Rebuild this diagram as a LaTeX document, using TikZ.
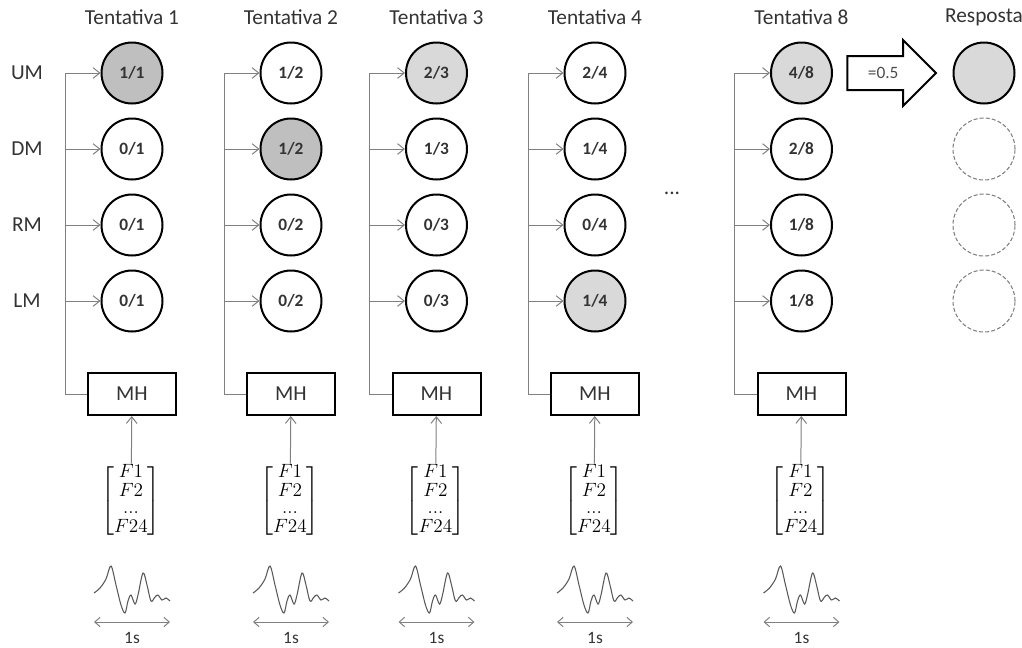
\documentclass[tikz,border=0pt]{standalone}
\usepackage{amsmath}
\usepackage{fontspec}
\setmainfont{Carlito}
\usepackage{tikz}
\usetikzlibrary{shapes.arrows, arrows.meta, positioning, calc}
\definecolor{hitdark}{HTML}{BFBFBF}
\definecolor{hitlight}{HTML}{D9D9D9}
\definecolor{wiregray}{HTML}{808080}
\definecolor{inkgray}{HTML}{333333}

\begin{document}
\begin{tikzpicture}[x=0.75pt, y=-0.75pt,
  label/.style={font=\fontsize{16}{18}\selectfont, text=inkgray},
  trial/.style={circle, draw, line width=1.5pt, minimum size=45.75pt,
    inner sep=0pt, fill=white, font=\fontsize{13}{15}\selectfont\bfseries, text=inkgray},
  hitd/.style={trial, fill=hitdark},
  hitl/.style={trial, fill=hitlight},
  pending/.style={circle, draw=wiregray, line width=0.8pt,
    dash pattern=on 3pt off 1.6pt, minimum size=46.5pt, inner sep=0pt},
  mhbox/.style={rectangle, draw, line width=1.5pt, minimum width=66pt,
    minimum height=31.5pt, label},
  feat/.style={inner sep=0.5pt, font=\fontsize{14.4}{13.2}\selectfont},
  wire/.style={draw=wiregray, line width=0.75pt},
  feed/.style={wire, -{Straight Barb[length=5pt, width=8pt]}},
  avgarrow/.style={single arrow, draw, line width=1.5pt, minimum height=66.5pt,
    single arrow head extend=12pt, inner ysep=7.5pt, text height=8.5pt,
    text depth=0.5pt, font=\fontsize{13}{15}\selectfont, text=black!70},
  eeg/.pic={
    \draw[draw=black!65, line width=0.8pt] plot[smooth, tension=0.55] coordinates {
      (0,0) (6,-5) (12,-14) (17,-27) (22,-8) (27,12) (31,20) (34,8) (37,2)
      (41,11) (44,2) (49,-20) (53,-8) (57,8) (61,4) (64,2) (68,7) (72,5) (76,8)};
    \draw[wire, {Straight Barb[length=4pt, width=7pt]}-{Straight Barb[length=4pt, width=7pt]}]
      (0,29) -- (76,29);
    \node[label, font=\fontsize{13}{15}\selectfont] (sec) at (38,45) {1s};
  }
]
  \useasboundingbox (0,0) rectangle (1022,647);

  % row labels
  \node[label] (lum) at (27,73)  {UM};
  \node[label] (ldm) at (27,149) {DM};
  \node[label] (lrm) at (27,225) {RM};
  \node[label] (llm) at (27,301) {LM};

  % one column per trial: x / hit styles / hit counts
  \foreach \k/\x/\sa/\sb/\sc/\sd/\a/\b/\c/\d in {
      1/132/hitd/trial/trial/trial/1/0/0/0,
      2/291/trial/hitd/trial/trial/1/1/0/0,
      3/436.5/hitl/trial/trial/trial/2/1/0/0,
      4/595/trial/trial/trial/hitl/2/1/0/1,
      8/801.5/hitl/trial/trial/trial/4/2/1/1}{
    \node[label] (t\k) at (\x,17) {Tentativa \k};
    \node[\sa] (um\k) at (\x,73) {\a/\k};
    \node[\sb, below=9.75pt of um\k] (dm\k) {\b/\k};
    \node[\sc, below=9.75pt of dm\k] (rm\k) {\c/\k};
    \node[\sd, below=9.75pt of rm\k] (lm\k) {\d/\k};
    \node[mhbox] (mh\k) at (\x,394) {MH};
    \node[feat] (fv\k) at (\x-1,501)
      {$\begin{bmatrix} F1\\ F2\\ \mathrm{...}\\ F24 \end{bmatrix}$};
    \pic (w\k) at (\x-38,593) {eeg};

    \coordinate (bus\k) at (\x-67,73);
    \draw[wire] (mh\k.west) -| (bus\k);
    \foreach \row in {um,dm,rm,lm}
      \draw[feed] (bus\k |- \row\k) -- (\row\k);
    \draw[feed] (fv\k) -- (mh\k);
  }

  \node[label] (gap) at (672,193) {...};

  % averaged answer
  \node[avgarrow, right=10pt of um8] (avg) {=0.5};
  \node[label] (tans) at (984,17) {Resposta};
  \node[hitl] (aum) at (984,73) {};
  \node[pending] (adm) at (aum |- dm8) {};
  \node[pending] (arm) at (aum |- rm8) {};
  \node[pending] (alm) at (aum |- lm8) {};
\end{tikzpicture}
\end{document}
